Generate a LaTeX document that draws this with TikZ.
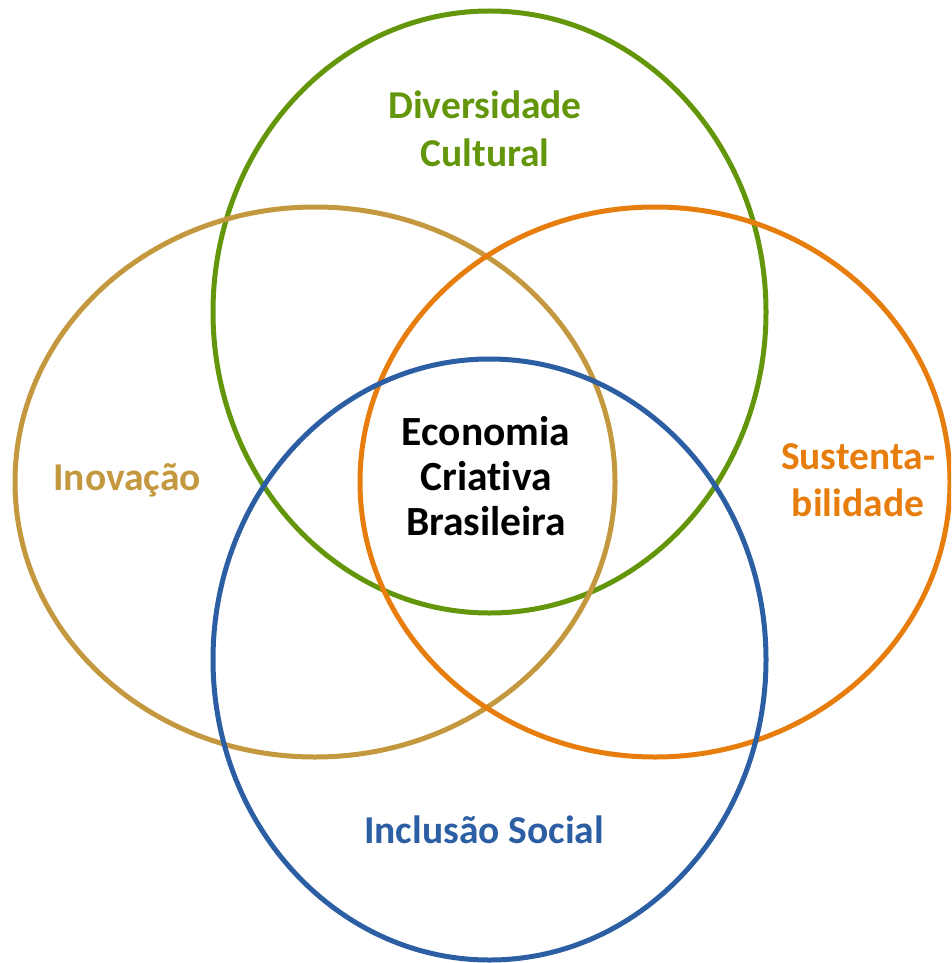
\documentclass[tikz,border=0pt]{standalone}
\usepackage{fontspec}
\setmainfont[Ligatures=NoCommon]{Carlito}
\definecolor{cgreen}{RGB}{100,150,12}
\definecolor{ctan}{RGB}{196,152,62}
\definecolor{corange}{RGB}{230,125,12}
\definecolor{cblue}{RGB}{44,94,164}
\begin{document}
\begin{tikzpicture}[x=1pt,y=-1pt,
  ring/.style={line width=5pt},
  lbl/.style={font=\fontsize{39.5}{47.5}\selectfont\bfseries, align=center, inner sep=0pt}]
\useasboundingbox (0,0) rectangle (951,963);
\begin{scope}
\clip (0,0) rectangle (951,963);
\draw[ring, cgreen] (489.5,312) ellipse [x radius=276.5, y radius=301];
\draw[ring, ctan] (315,482) ellipse [x radius=300, y radius=275];
\draw[ring, corange] (655,482) ellipse [x radius=295, y radius=275];
\draw[ring, cblue] (489.5,659.5) ellipse [x radius=276.5, y radius=300.5];
\end{scope}
\node[lbl, text=cgreen] (div) at (485,129) {Diversidade\\Cultural};
\node[lbl, text=ctan] (ino) at (127,480) {Inovação};
\node[lbl, text=corange] (sus) at (858,480) {Sustenta-\\bilidade};
\node[lbl, text=cblue] (inc) at (484,830) {Inclusão Social};
\node[lbl, text=black, font=\fontsize{41.5}{45}\selectfont\bfseries] (eco) at (486,476) {Economia\\Criativa\\Brasileira};
\end{tikzpicture}
\end{document}
